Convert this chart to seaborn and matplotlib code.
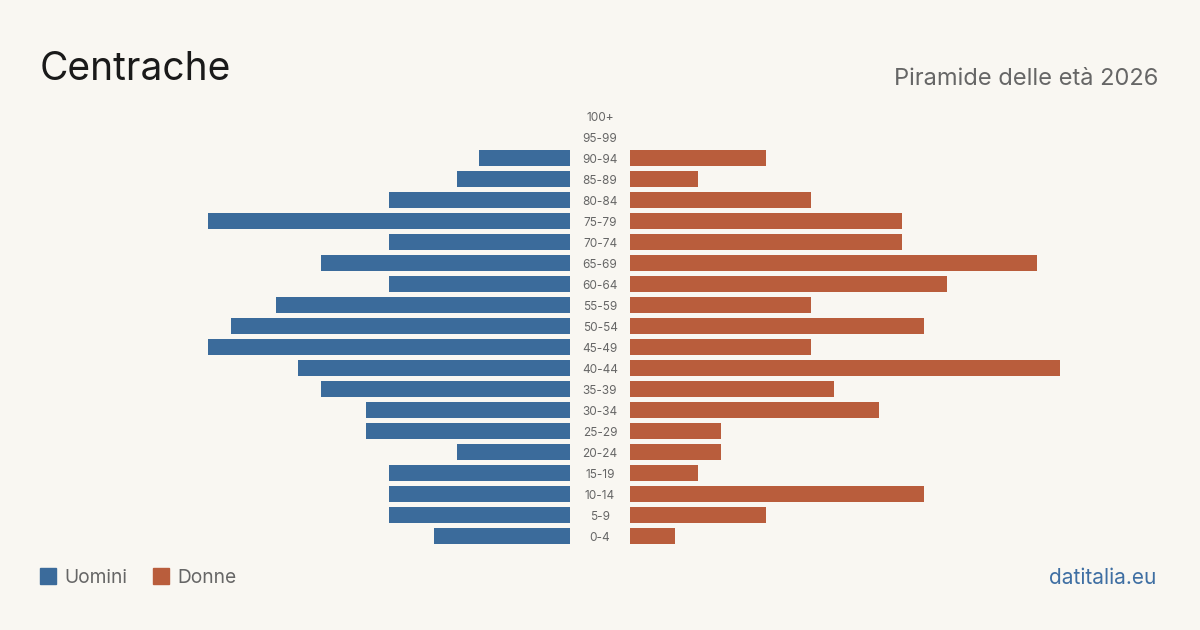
import matplotlib
matplotlib.use("Agg")
from matplotlib import pyplot as plt
import matplotlib.patches as mpt
import pandas as pd
import seaborn as sns

# age classes from youngest to oldest
classes = ["0-4", "5-9", "10-14", "15-19", "20-24", "25-29", "30-34", "35-39",
           "40-44", "45-49", "50-54", "55-59", "60-64", "65-69", "70-74",
           "75-79", "80-84", "85-89", "90-94", "95-99", "100+"]
men = [6, 8, 8, 8, 5, 9, 9, 11, 12, 16, 15, 13, 8, 11, 8, 16, 8, 5, 4, 0, 0]
women = [2, 6, 13, 3, 4, 4, 11, 9, 19, 8, 13, 8, 14, 18, 12, 12, 8, 3, 6, 0, 0]

title = "Centrache"
subtitle = "Piramide delle età 2026"
legend_labels = ["Uomini", "Donne"]
source = "datitalia.eu"

bg = "#f9f7f2"
blue = "#3b6b9b"
orange = "#b95d3c"
grey = "#666666"

sns.set_theme(style="white")
plt.rcParams["font.family"] = ["Inter", "DejaVu Sans"]

df = pd.DataFrame({"classe": classes, "Uomini": men, "Donne": women})
order = classes[::-1]

W, H = 1200, 630
fig = plt.figure(figsize=(12, 6.3), dpi=100, facecolor=bg)

xmax = 470 / 22.63
top = 1 - 105.5 / H
bottom = 1 - 546.5 / H
ax_l = fig.add_axes([100 / W, bottom, 470 / W, top - bottom])
ax_r = fig.add_axes([630 / W, bottom, 470 / W, top - bottom])

sns.barplot(data=df, x="Uomini", y="classe", order=order, orient="h",
            color=blue, saturation=1, width=0.8, linewidth=0, ax=ax_l)
sns.barplot(data=df, x="Donne", y="classe", order=order, orient="h",
            color=orange, saturation=1, width=0.8, linewidth=0, ax=ax_r)

ax_l.set_xlim(xmax, 0)
ax_r.set_xlim(0, xmax)
for ax in (ax_l, ax_r):
    ax.set_ylim(len(classes) - 0.5, -0.5)
    ax.set_facecolor("none")
    ax.axis("off")

# age labels in the middle gap
for i, c in enumerate(order):
    y = 1 - (118 + 21 * i) / H
    fig.text(600 / W, y, c, ha="center", va="center", fontsize=8.5, color=grey)

fig.text(40 / W, 1 - 70 / H, title, ha="left", va="center", fontsize=28, color="#1a1a1a")
fig.text(1158 / W, 1 - 79 / H, subtitle, ha="right", va="center", fontsize=17, color=grey)

# legend
fig.patches.append(mpt.Rectangle((40 / W, 1 - 584 / H), 16 / W, 16 / H,
                                 transform=fig.transFigure, color=blue))
fig.text(64 / W, 1 - 578 / H, legend_labels[0], ha="left", va="center", fontsize=13.8, color=grey)
fig.patches.append(mpt.Rectangle((153 / W, 1 - 584 / H), 16 / W, 16 / H,
                                 transform=fig.transFigure, color=orange))
fig.text(177 / W, 1 - 578 / H, legend_labels[1], ha="left", va="center", fontsize=13.8, color=grey)

fig.text(1156 / W, 1 - 578 / H, source, ha="right", va="center", fontsize=15, color="#3f6fa3")

fig.savefig("out.png", dpi=100, facecolor=bg)
